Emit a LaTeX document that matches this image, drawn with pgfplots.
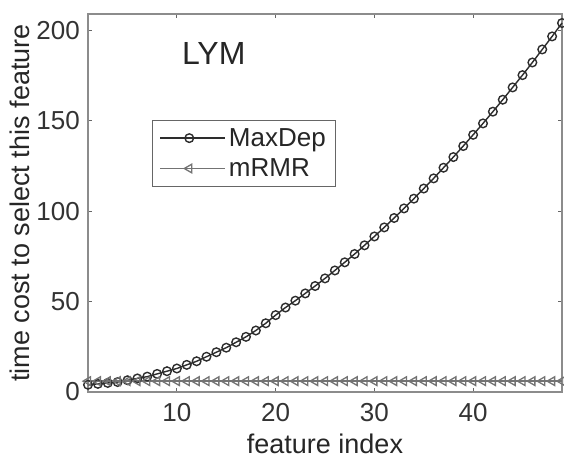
\documentclass[border=0pt]{standalone}
\usepackage{pgfplots}
\pgfplotsset{compat=1.18}
\usepackage{fontspec}
\setmainfont{Liberation Sans}
\definecolor{dep}{RGB}{45,45,45}
\definecolor{mr}{RGB}{115,115,115}
\begin{document}
\begin{tikzpicture}
\begin{axis}[
  scale only axis,
  width=474pt, height=378pt,
  xmin=1, xmax=49, ymin=0, ymax=209,
  xtick={10,20,30,40}, ytick={0,50,100,150,200},
  tick align=inside, tick pos=both,
  major tick length=4pt,
  axis line style={draw=black!45, line width=1.6pt},
  tick style={black!60, line width=0.9pt},
  /pgf/number format/assume math mode=true,
  ticklabel style={font=\fontsize{26}{30}\selectfont, text=black!80, inner sep=2pt},
  xticklabel style={yshift=-9pt},
  yticklabel style={xshift=-6pt},
  xlabel={feature index},
  ylabel={time cost to select this feature},
  xlabel style={font=\fontsize{27}{30}\selectfont, text=black!85, at={(axis description cs:0.5,-0.163)}, anchor=base},
  ylabel style={font=\fontsize{27}{30}\selectfont, text=black!85, at={(axis description cs:-0.124,0.5)}, anchor=base},
  legend style={at={(0.135,0.720)}, anchor=north west, draw=black!60, line width=1.2pt,
    font=\fontsize{26}{28}\selectfont, text=black!85, inner xsep=7pt, inner ysep=5pt,
    row sep=5pt, nodes={inner sep=3pt}},
  legend cell align=left,
  legend image code/.code={
    \path (-5pt,0pt) -- (60pt,0pt);
    \draw[#1] (0pt,0pt) -- (48pt,0pt);
    \draw[#1, only marks] plot coordinates {(24pt,0pt)};
  },
  clip=false,
]
\addplot[color=dep, line width=1.4pt, mark=o, mark size=4.3pt, mark options={line width=1.4pt, fill=none}]
coordinates {
(1,4)(2,4.5)(3,5)(4,5.5)(5,6.5)(6,7.5)(7,8.5)(8,10)(9,11.5)(10,13)
(11,15)(12,17)(13,19.5)(14,22)(15,24.5)(16,27.5)(17,30.5)(18,34)(19,38)(20,42.5)
(21,46.7)(22,50.5)(23,54.5)(24,58.6)(25,62.8)(26,67.2)(27,71.7)(28,76.3)(29,81.1)(30,86.0)
(31,91.0)(32,96.2)(33,101.5)(34,106.9)(35,112.5)(36,118.1)(37,124.0)(38,129.9)(39,136.0)(40,142.2)
(41,148.5)(42,155.0)(43,161.6)(44,168.4)(45,175.2)(46,182.2)(47,189.4)(48,196.6)(49,204.0)
};
\addlegendentry{MaxDep}
\addplot[color=mr, line width=1.4pt, mark=triangle, mark size=5pt, mark options={rotate=90, line width=1.3pt, fill=none}]
coordinates {
(1,6)(2,6)(3,6)(4,6)(5,6)(6,6)(7,6)(8,6)(9,6)(10,6)
(11,6)(12,6)(13,6)(14,6)(15,6)(16,6)(17,6)(18,6)(19,6)(20,6)
(21,6)(22,6)(23,6)(24,6)(25,6)(26,6)(27,6)(28,6)(29,6)(30,6)
(31,6)(32,6)(33,6)(34,6)(35,6)(36,6)(37,6)(38,6)(39,6)(40,6)
(41,6)(42,6)(43,6)(44,6)(45,6)(46,6)(47,6)(48,6)(49,6)
};
\addlegendentry{mRMR}
\node[anchor=base west, inner sep=0pt, font=\fontsize{32}{36}\selectfont, text=black!85] at (axis cs:10.5,180.8) {LYM};
\coordinate (sw) at (rel axis cs:0,0);
\coordinate (ne) at (rel axis cs:1,1);
\end{axis}
\pgfresetboundingbox
\path[use as bounding box] ([xshift=-88pt,yshift=-67pt]sw) rectangle ([xshift=2pt,yshift=14pt]ne);
\end{tikzpicture}
\end{document}
